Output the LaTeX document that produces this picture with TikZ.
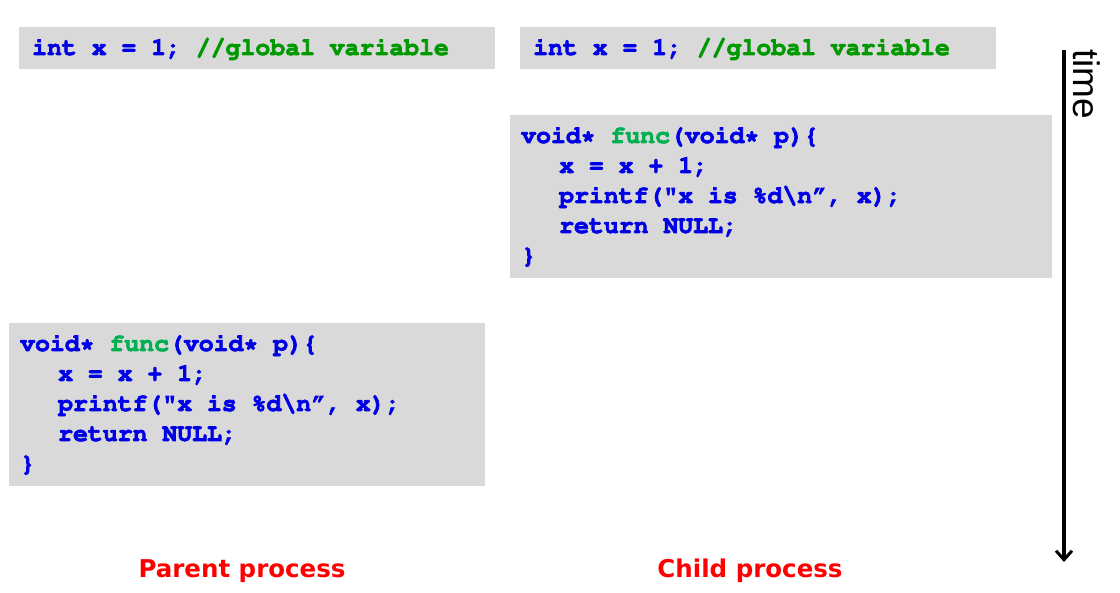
\documentclass[tikz,border=0pt]{standalone}
\usepackage[T1]{fontenc}
\usepackage{fontspec}
\usetikzlibrary{arrows.meta}
\newfontfamily\labfont{DejaVu Sans}
\newfontfamily\timefont{Liberation Sans}
\newcommand{\codefont}{\fontencoding{T1}\fontfamily{pcr}\fontseries{b}\selectfont}
\newcommand{\fakebold}[1]{\special{pdf:literal direct 2 Tr 0.7 w}#1\special{pdf:literal direct 0 Tr}}
\definecolor{kwblue}{RGB}{0,0,230}
\definecolor{cmgreen}{RGB}{0,153,0}
\definecolor{fngreen}{RGB}{0,176,80}
\definecolor{boxgray}{RGB}{217,217,217}
\definecolor{labred}{RGB}{255,0,0}
\newcommand{\cm}[1]{\textcolor{cmgreen}{#1}}
\newcommand{\fn}[1]{\textcolor{fngreen}{#1}}
\begin{document}
\begin{tikzpicture}[x=1pt,y=-1pt,
  codebox/.style={fill=boxgray, draw=none, inner sep=0pt, anchor=north west},
  codeline/.style={anchor=base west, inner sep=0pt, text=kwblue,
     font=\fontsize{24.8}{30}\codefont},
  proclabel/.style={anchor=base, inner sep=0pt, text=labred,
     font=\labfont\bfseries\fontsize{24.5}{29}\selectfont}]
\useasboundingbox (0,0) rectangle (1120,593);
% boxes
\node[codebox, minimum width=476pt, minimum height=42pt] (gl) at (19,27) {};
\node[codebox, minimum width=476pt, minimum height=42pt] (gr) at (520,27) {};
\node[codebox, minimum width=542pt, minimum height=163pt] (fr) at (510,115) {};
\node[codebox, minimum width=476pt, minimum height=163pt] (fl) at (9,323) {};
% global lines
\node[codeline] (gltext) at (32,55) {\fakebold{int x = 1; \cm{//global variable}}};
\node[codeline] (grtext) at (533,55) {\fakebold{int x = 1; \cm{//global variable}}};
% child func
\node[codeline] (c1) at (521,143) {\fakebold{void* \fn{func}(void* p)\{}};
\node[codeline] (c2) at (559,173) {\fakebold{x = x + 1;}};
\node[codeline] (c3) at (559,203) {\fakebold{printf("x is \%d\textbackslash n\textquotedblright, x);}};
\node[codeline] (c4) at (559,233) {\fakebold{return NULL;}};
\node[codeline] (c5) at (521,263) {\fakebold{\}}};
% parent func
\node[codeline] (p1) at (20,351) {\fakebold{void* \fn{func}(void* p)\{}};
\node[codeline] (p2) at (58,381) {\fakebold{x = x + 1;}};
\node[codeline] (p3) at (58,411) {\fakebold{printf("x is \%d\textbackslash n\textquotedblright, x);}};
\node[codeline] (p4) at (58,441) {\fakebold{return NULL;}};
\node[codeline] (p5) at (20,471) {\fakebold{\}}};
% labels
\node[proclabel] (parent) at (242,577) {Parent process};
\node[proclabel] (child) at (750,577) {Child process};
% time arrow
\coordinate (tstart) at (1064,50);
\coordinate (tend) at (1064,562);
\draw[line width=4pt, -{Straight Barb[length=9pt,width=16pt,line width=3pt]}] (tstart) -- (tend);
\node[rotate=-90, anchor=base west, inner sep=0pt, font=\timefont\fontsize{37}{42}\selectfont] (time) at (1073,49) {time};
\end{tikzpicture}
\end{document}
